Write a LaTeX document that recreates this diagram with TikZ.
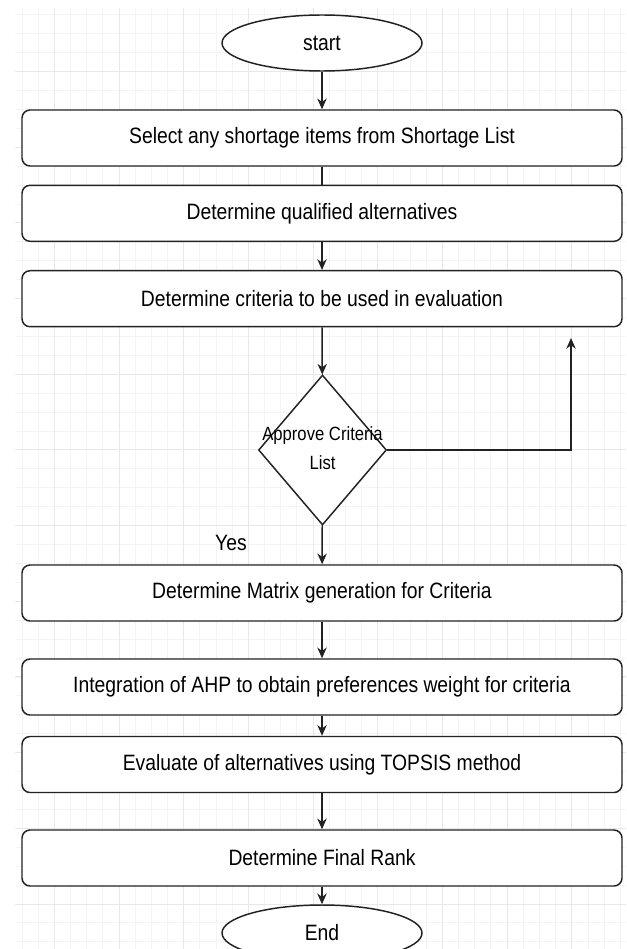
\documentclass[tikz,border=0pt]{standalone}
\usepackage{fontspec}
\usepackage{graphicx}
\setmainfont{Liberation Sans}
\usetikzlibrary{shapes.geometric,arrows.meta}
\definecolor{minorgrid}{HTML}{F4F4F4}
\definecolor{majorgrid}{HTML}{E8E8E8}
\definecolor{stroke}{HTML}{222222}
\newcommand\tallt[1]{\scalebox{1}[1.15]{#1}}
\tikzset{
  box/.style={draw=stroke,line width=1.1pt,fill=white,rounded corners=6pt,
    minimum width=450pt,minimum height=42pt,inner sep=0pt,
    font=\fontsize{14.5}{17}\selectfont},
  term/.style={draw=stroke,line width=1.1pt,fill=white,ellipse,
    minimum width=150pt,minimum height=42pt,inner sep=0pt,
    font=\fontsize{14.5}{17}\selectfont},
  decision/.style={draw=stroke,line width=1.1pt,fill=white,diamond,
    minimum width=96pt,minimum height=112.5pt,inner sep=0pt},
  dtext/.style={align=center,font=\fontsize{12.5}{16}\selectfont,inner sep=0pt},
  arr/.style={draw=stroke,line width=1.1pt,-{Stealth[length=8pt,width=7pt,inset=2.5pt]}},
  plain/.style={draw=stroke,line width=1.1pt},
  mgrid/.style={draw=minorgrid,line width=0.6pt},
  Mgrid/.style={draw=majorgrid,line width=0.7pt}
}
\begin{document}
\begin{tikzpicture}[x=0.75pt,y=-0.75pt]
\useasboundingbox[fill=white] (0,0) rectangle (626,949);
% grid
\foreach \k in {0,...,37} {\draw[mgrid] ({21.96+16.17*\k},8) -- ({21.96+16.17*\k},949);}
\foreach \k in {0,...,49} {\draw[mgrid] (15,{14.7+18.92*\k}) -- (626,{14.7+18.92*\k});}
\foreach \k in {0,...,8} {\draw[Mgrid] ({54.3+64.68*\k},8) -- ({54.3+64.68*\k},949);}
\foreach \k in {0,...,11} {\draw[Mgrid] (15,{71.5+75.68*\k}) -- (626,{71.5+75.68*\k});}
% nodes
\node[term] (start) at (322,43) {\tallt{start}};
\node[box] (b1) at (322,138) {\tallt{Select any shortage items from Shortage List}};
\node[box] (b2) at (322,213.3) {\tallt{Determine qualified alternatives}};
\node[box] (b3) at (322,298.7) {\tallt{Determine criteria to be used in evaluation}};
\node[decision,label={[dtext]center:\tallt{\begin{tabular}{@{}c@{}}Approve Criteria\\[3pt]List\end{tabular}}}] (d) at (322.5,450) {};
\node[box] (b4) at (322,593) {\tallt{Determine Matrix generation for Criteria}};
\node[box] (b5) at (322,687) {\tallt{Integration of AHP to obtain preferences weight for criteria}};
\node[box] (b6) at (322,764.5) {\tallt{Evaluate of alternatives using TOPSIS method}};
\node[box] (b7) at (322,858) {\tallt{Determine Final Rank}};
\node[term] (end) at (322,933) {\tallt{End}};
\node[font=\fontsize{14.5}{17}\selectfont,inner sep=0pt] (yes) at (231,543) {\tallt{Yes}};
\coordinate (up) at (571,338);
% connectors
\draw[arr] (start) -- (b1);
\draw[plain] (b1) -- (b2);
\draw[arr] (b2) -- (b3);
\draw[arr] (b3) -- (d);
\draw[arr] (d.east) -| (up);
\draw[arr] (d) -- (b4);
\draw[arr] (b4) -- (b5);
\draw[arr] (b5) -- (b6);
\draw[arr] (b6) -- (b7);
\draw[arr] (b7) -- (end);
\end{tikzpicture}
\end{document}
